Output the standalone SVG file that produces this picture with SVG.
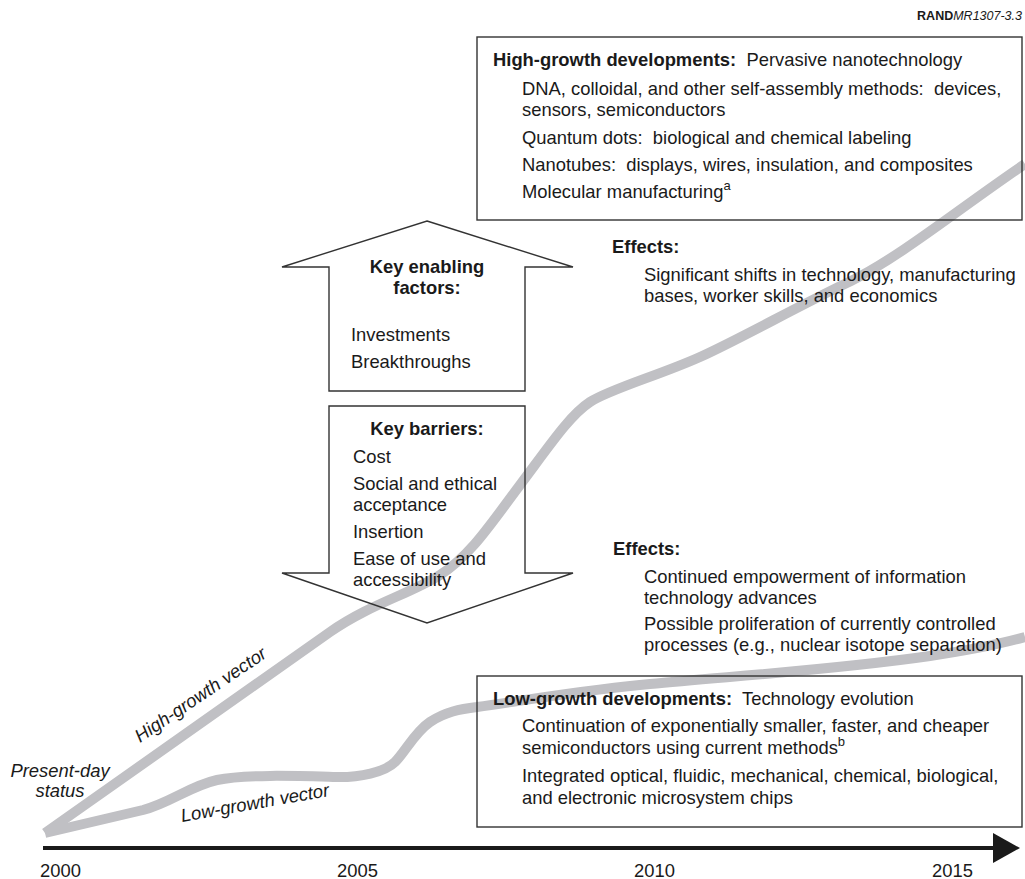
<svg xmlns="http://www.w3.org/2000/svg" width="1025" height="879" viewBox="0 0 1025 879">
<defs>
<style>
text{font-family:"Liberation Sans",Arial,sans-serif;font-size:18.4px;fill:#1a1a1a}
.b{font-weight:bold}
.i{font-style:italic}
.c{text-anchor:middle}
.shape{fill:none;stroke:#333;stroke-width:1.4}
.vec{fill:none;stroke:#c0c0c4;stroke-width:10;stroke-linejoin:round;stroke-linecap:butt}
.sup{font-size:13px}
</style>
</defs>
<rect width="1025" height="879" fill="#fff"/>
<text x="1022" y="20" style="font-size:12.5px;text-anchor:end"><tspan class="b">RAND</tspan><tspan class="i">MR1307-3.3</tspan></text>

<g id="connectors">
<path class="vec" d="M45,833 L330,632 C370,604 410,594 440,575 C470,556 490,525 520,485 C550,445 570,415 590,402 C610,389 660,375 700,357 C740,339 800,305 851,281 C900,257 960,208 1025,164"/>
<path class="vec" d="M45,833 L143,810 C170,803 190,786 217,780 C245,774 300,776 333,777 C360,778 385,772 395,762 C405,752 415,732 430,722 C445,712 460,709 477,707 C540,698 600,688 650,684 C733,676 833,670 930,656 C970,650 1000,644 1025,637"/>
<line x1="43" y1="848" x2="995" y2="848" stroke="#1a1a1a" stroke-width="4"/>
<polygon points="993,833 1020,848 993,863" fill="#1a1a1a"/>
</g>

<g id="labels">
<text x="60" y="777" class="i c">Present-day</text>
<text x="60" y="797" class="i c">status</text>
<text class="i" transform="translate(140,743) rotate(-34)">High-growth vector</text>
<text class="i" transform="translate(182,822) rotate(-10)">Low-growth vector</text>
<text x="40" y="877">2000</text>
<text x="337" y="877">2005</text>
<text x="634" y="877">2010</text>
<text x="932" y="877">2015</text>
</g>

<g id="high-growth">
<rect class="shape" x="477" y="37" width="545" height="183"/>
<text x="493" y="66" xml:space="preserve"><tspan class="b">High-growth developments:</tspan>  Pervasive nanotechnology</text>
<text x="522" y="95" xml:space="preserve">DNA, colloidal, and other self-assembly methods:  devices,</text>
<text x="522" y="116">sensors, semiconductors</text>
<text x="522" y="144" xml:space="preserve">Quantum dots:  biological and chemical labeling</text>
<text x="522" y="171" xml:space="preserve">Nanotubes:  displays, wires, insulation, and composites</text>
<text x="522" y="198">Molecular manufacturing<tspan class="sup" dy="-8">a</tspan></text>
</g>

<g id="effects-high">
<text x="612" y="253" class="b">Effects:</text>
<text x="644" y="281">Significant shifts in technology, manufacturing</text>
<text x="644" y="302">bases, worker skills, and economics</text>
</g>

<g id="enabling-factors">
<polygon class="shape" points="427,221 573,267 525,267 525,391 329,391 329,267 282,267"/>
<text x="427" y="273" class="b c">Key enabling</text>
<text x="427" y="294" class="b c">factors:</text>
<text x="351" y="341">Investments</text>
<text x="351" y="368">Breakthroughs</text>
</g>

<g id="barriers">
<polygon class="shape" points="329,406 525,406 525,573 573,573 427,623 282,573 329,573"/>
<text x="427" y="435" class="b c">Key barriers:</text>
<text x="353" y="463">Cost</text>
<text x="353" y="490">Social and ethical</text>
<text x="353" y="511">acceptance</text>
<text x="353" y="538">Insertion</text>
<text x="353" y="565">Ease of use and</text>
<text x="353" y="586">accessibility</text>
</g>

<g id="effects-low">
<text x="613" y="555" class="b">Effects:</text>
<text x="644" y="583">Continued empowerment of information</text>
<text x="644" y="604">technology advances</text>
<text x="644" y="630">Possible proliferation of currently controlled</text>
<text x="644" y="651">processes (e.g., nuclear isotope separation)</text>
</g>

<g id="low-growth">
<rect class="shape" x="477" y="676" width="545" height="151"/>
<text x="493" y="705" xml:space="preserve"><tspan class="b">Low-growth developments:</tspan>  Technology evolution</text>
<text x="522" y="732">Continuation of exponentially smaller, faster, and cheaper</text>
<text x="522" y="754">semiconductors using current methods<tspan class="sup" dy="-8">b</tspan></text>
<text x="522" y="782">Integrated optical, fluidic, mechanical, chemical, biological,</text>
<text x="522" y="804">and electronic microsystem chips</text>
</g>
</svg>
